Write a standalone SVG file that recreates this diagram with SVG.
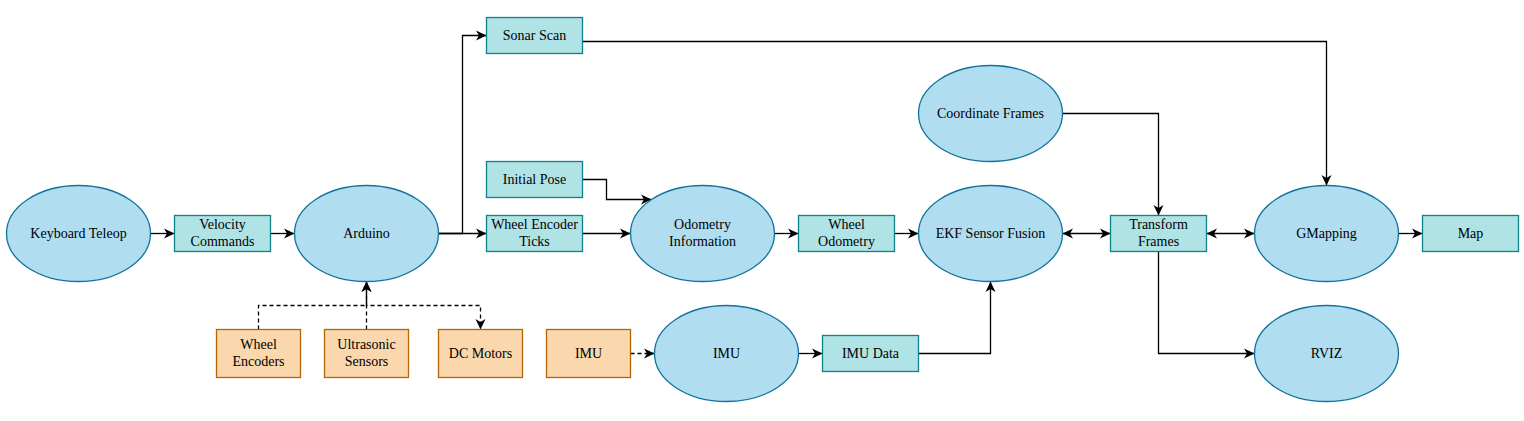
<svg xmlns="http://www.w3.org/2000/svg" width="1524" height="421" viewBox="0 0 1524 421">
<style>
.ell{fill:#b1ddf0;stroke:#10739e;stroke-width:1.3}
.box{fill:#b0e3e6;stroke:#0e8088;stroke-width:1.3}
.hw{fill:#fad7ac;stroke:#b46504;stroke-width:1.3}
text{font-family:"Liberation Serif","Times New Roman",serif;font-size:14px;fill:#000;text-anchor:middle}
.edge{fill:none;stroke:#000;stroke-width:1.3}
.dash{stroke-dasharray:4 3}
</style>
<defs>
<marker id="arr" markerUnits="userSpaceOnUse" markerWidth="12" markerHeight="12" viewBox="0 0 12 12" refX="11" refY="6" orient="auto-start-reverse">
<path d="M0.5,1 L11,6 L0.5,11 L3.5,6 Z" fill="#000"/>
</marker>
</defs>
<rect width="1524" height="421" fill="#fff"/>
<g id="connectors">
<path class="edge" d="M150.5,233.5 H174.5" marker-end="url(#arr)"/>
<path class="edge" d="M270.5,233.5 H294.5" marker-end="url(#arr)"/>
<path class="edge" d="M438.5,233.5 H486.5" marker-end="url(#arr)"/>
<path class="edge" d="M438.5,233.5 H462.5 V35.5 H486.5" marker-end="url(#arr)"/>
<path class="edge" d="M582.5,179.5 H606.5 V199.5 H651.5" marker-end="url(#arr)"/>
<path class="edge" d="M582.5,233.5 H630.5" marker-end="url(#arr)"/>
<path class="edge" d="M774.5,233.5 H798.5" marker-end="url(#arr)"/>
<path class="edge" d="M894.5,233.5 H918.5" marker-end="url(#arr)"/>
<path class="edge" d="M1062.5,233.5 H1110.5" marker-start="url(#arr)" marker-end="url(#arr)"/>
<path class="edge" d="M1206.5,233.5 H1254.5" marker-start="url(#arr)" marker-end="url(#arr)"/>
<path class="edge" d="M1398.5,233.5 H1422.5" marker-end="url(#arr)"/>
<path class="edge" d="M582.5,41.5 H1326.5 V185.5" marker-end="url(#arr)"/>
<path class="edge" d="M1062.5,113.5 H1158.5 V215.5" marker-end="url(#arr)"/>
<path class="edge" d="M1158.5,251.5 V353.5 H1254.5" marker-end="url(#arr)"/>
<path class="edge dash" d="M630.5,353.5 H654.5" marker-end="url(#arr)"/>
<path class="edge" d="M798.5,353.5 H822.5" marker-end="url(#arr)"/>
<path class="edge" d="M918.5,353.5 H990.5 V281.5" marker-end="url(#arr)"/>
<path class="edge dash" d="M258.5,329.5 V305.5 H366.5 V281.5" marker-end="url(#arr)"/>
<path class="edge dash" d="M366.5,329.5 V281.5" marker-end="url(#arr)"/>
<path class="edge dash" d="M366.5,281.5 V305.5 H480.5 V329.5" marker-end="url(#arr)"/>
</g>
<g id="keyboard-teleop"><ellipse class="ell" cx="78.5" cy="233.5" rx="72" ry="48"/><text x="78.5" y="238">Keyboard Teleop</text></g>
<g id="velocity-commands"><rect class="box" x="174.5" y="215.5" width="96" height="36"/><text x="222.5" y="229.3">Velocity</text><text x="222.5" y="246">Commands</text></g>
<g id="arduino"><ellipse class="ell" cx="366.5" cy="233.5" rx="72" ry="48"/><text x="366.5" y="238">Arduino</text></g>
<g id="sonar-scan"><rect class="box" x="486.5" y="17.5" width="96" height="36"/><text x="534.5" y="40">Sonar Scan</text></g>
<g id="initial-pose"><rect class="box" x="486.5" y="161.5" width="96" height="36"/><text x="534.5" y="184">Initial Pose</text></g>
<g id="wheel-encoder-ticks"><rect class="box" x="486.5" y="215.5" width="96" height="36"/><text x="534.5" y="229.3">Wheel Encoder</text><text x="534.5" y="246">Ticks</text></g>
<g id="odometry-information"><ellipse class="ell" cx="702.5" cy="233.5" rx="72" ry="48"/><text x="702.5" y="229.3">Odometry</text><text x="702.5" y="246">Information</text></g>
<g id="wheel-odometry"><rect class="box" x="798.5" y="215.5" width="96" height="36"/><text x="846.5" y="229.3">Wheel</text><text x="846.5" y="246">Odometry</text></g>
<g id="coordinate-frames"><ellipse class="ell" cx="990.5" cy="113.5" rx="72" ry="48"/><text x="990.5" y="118">Coordinate Frames</text></g>
<g id="ekf-sensor-fusion"><ellipse class="ell" cx="990.5" cy="233.5" rx="72" ry="48"/><text x="990.5" y="238">EKF Sensor Fusion</text></g>
<g id="transform-frames"><rect class="box" x="1110.5" y="215.5" width="96" height="36"/><text x="1158.5" y="229.3">Transform</text><text x="1158.5" y="246">Frames</text></g>
<g id="gmapping"><ellipse class="ell" cx="1326.5" cy="233.5" rx="72" ry="48"/><text x="1326.5" y="238">GMapping</text></g>
<g id="map"><rect class="box" x="1422.5" y="215.5" width="96" height="36"/><text x="1470.5" y="238">Map</text></g>
<g id="rviz"><ellipse class="ell" cx="1326.5" cy="353.5" rx="72" ry="48"/><text x="1326.5" y="358">RVIZ</text></g>
<g id="wheel-encoders"><rect class="hw" x="216.5" y="329.5" width="84" height="48"/><text x="258.5" y="349.3">Wheel</text><text x="258.5" y="366">Encoders</text></g>
<g id="ultrasonic-sensors"><rect class="hw" x="324.5" y="329.5" width="84" height="48"/><text x="366.5" y="349.3">Ultrasonic</text><text x="366.5" y="366">Sensors</text></g>
<g id="dc-motors"><rect class="hw" x="438.5" y="329.5" width="84" height="48"/><text x="480.5" y="358">DC Motors</text></g>
<g id="imu-hw"><rect class="hw" x="546.5" y="329.5" width="84" height="48"/><text x="588.5" y="358">IMU</text></g>
<g id="imu-node"><ellipse class="ell" cx="726.5" cy="353.5" rx="72" ry="48"/><text x="726.5" y="358">IMU</text></g>
<g id="imu-data"><rect class="box" x="822.5" y="335.5" width="96" height="36"/><text x="870.5" y="358">IMU Data</text></g>
</svg>
